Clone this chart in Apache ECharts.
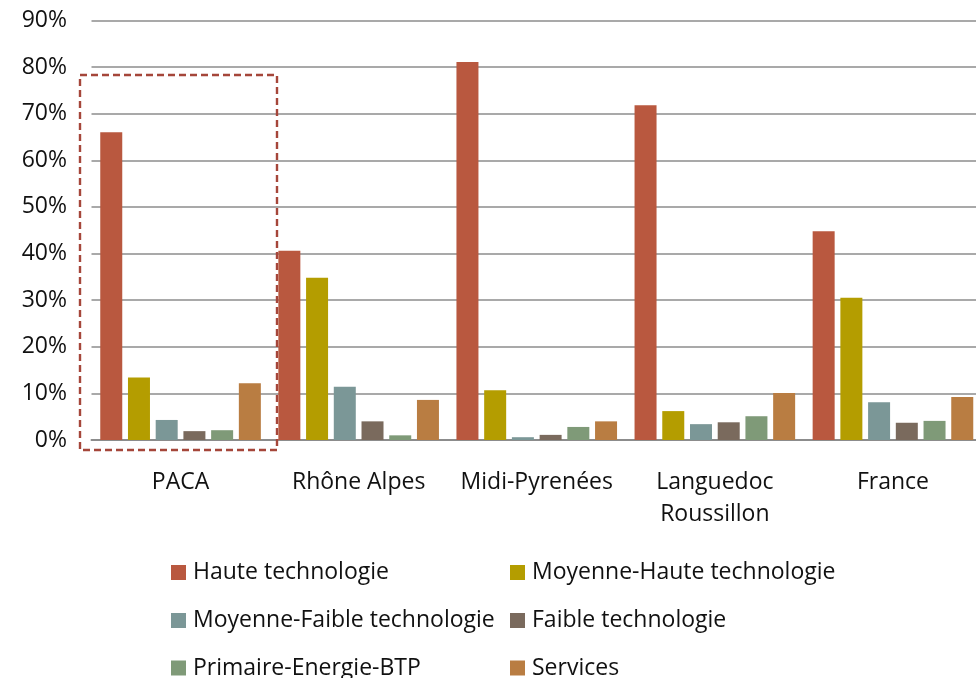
<!DOCTYPE html>
<html><head><meta charset="utf-8">
<script src="https://cdn.jsdelivr.net/npm/echarts@6/dist/echarts.min.js"></script>
<style>html,body{margin:0;padding:0;background:#fff}#c{width:976px;height:678px}</style>
</head><body><div id="c"></div>
<script>
const categories = ['PACA','Rhône Alpes','Midi-Pyrenées','Languedoc\nRoussillon','France'];
const seriesNames = ['Haute technologie','Moyenne-Haute technologie','Moyenne-Faible technologie','Faible technologie','Primaire-Energie-BTP','Services'];
const hauteTech = [66.0, 40.6, 81.1, 71.8, 44.8];
const moyHauteTech = [13.4, 34.8, 10.7, 6.2, 30.5];
const moyFaibleTech = [4.3, 11.4, 0.6, 3.4, 8.1];
const faibleTech = [1.9, 4.0, 1.1, 3.8, 3.7];
const primaire = [2.1, 1.0, 2.8, 5.1, 4.1];
const services = [12.2, 8.6, 4.0, 10.1, 9.2];
const yTicks = [0,10,20,30,40,50,60,70,80,90];

const colors = ['#B9583F','#B49D00','#7B9797','#7A6A5D','#7F9A78','#B97D42'];
const values = [hauteTech, moyHauteTech, moyFaibleTech, faibleTech, primaire, services];
const FONT = '"Open Sans", sans-serif';
const FS = 23;

// legend layout: two columns, three rows
const legCols = [171, 510];
const legRows = [560.5, 608.5, 656];
const legends = seriesNames.map((n,i)=>({
  left: legCols[i % 2], top: legRows[Math.floor(i / 2)], padding:0,
  itemWidth:15, itemHeight:15, icon:'rect', data:[n],
  textStyle:{fontSize:FS, fontFamily:FONT, color:'#111', lineHeight:24, padding:[0,0,0,2]}
}));

const chart = echarts.init(document.getElementById('c'), null, {renderer:'canvas'});
chart.setOption({
  animation:false,
  color: colors,
  textStyle:{fontFamily:FONT},
  grid:{left:91.5, right:-6, top:20.5, bottom:238, containLabel:false, outerBoundsMode:'none'},
  xAxis:{
    type:'category', data:categories,
    axisLine:{lineStyle:{color:'#8c8c8c', width:2}},
    axisTick:{show:false},
    axisLabel:{color:'#111', fontSize:FS, fontFamily:FONT, margin:26, lineHeight:32, interval:0}
  },
  yAxis:{
    type:'value', min:yTicks[0], max:yTicks[yTicks.length-1], interval:10,
    axisLine:{show:false}, axisTick:{show:false},
    splitLine:{lineStyle:{color:'#8c8c8c', width:1.5}},
    axisLabel:{color:'#111', fontSize:FS, fontFamily:FONT, margin:24.5, formatter: v => v + '%'}
  },
  legend: legends,
  series: seriesNames.map((n,i)=>({
    name:n, type:'bar', data:values[i], barWidth:22, barGap:'26%',
    itemStyle:{color:colors[i]}
  })),
  graphic:[{
    type:'rect', z:100,
    shape:{x:80, y:75, width:197, height:375},
    style:{fill:null, stroke:'#A5463A', lineWidth:2.4, lineDash:[7,4]}
  }]
});
</script></body></html>
